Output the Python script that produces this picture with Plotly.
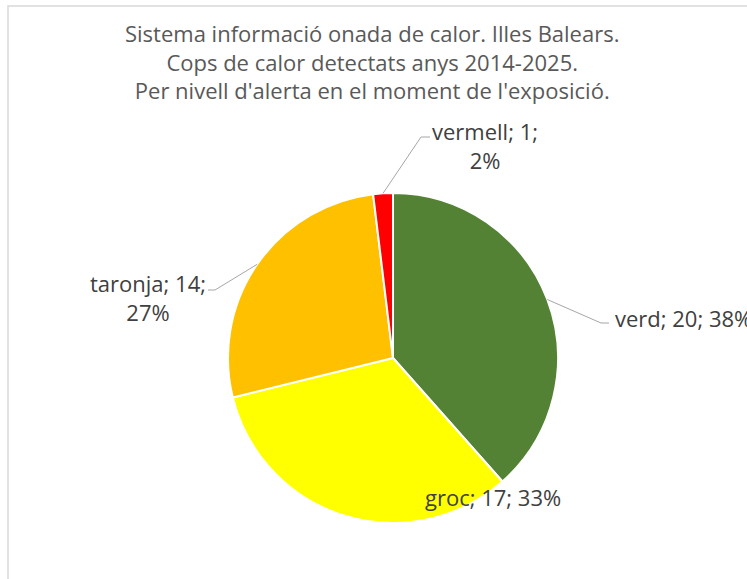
import math
import plotly.graph_objects as go

# Heat stroke cases by alert level (Illes Balears, 2014-2025)
levels = ["verd", "groc", "taronja", "vermell"]
cases = [20, 17, 14, 1]
colors = ["#548235", "#FFFF00", "#FFC000", "#FF0000"]

W, H = 747, 579
cx, cy, r = 393, 358, 165  # pie centre / radius in pixels

# label placement (pixels): text anchor, elbow, line end, wrap after count
label_pos = {
    "verd":    dict(x=613, y=318, xanchor="left", elbow=(601, 323), end=(609, 323), wrap=False),
    "groc":    dict(x=493, y=497, xanchor="center", elbow=None, end=None, wrap=False),
    "taronja": dict(x=148, y=297, xanchor="center", elbow=(215, 290), end=(208, 290), wrap=True),
    "vermell": dict(x=485, y=146, xanchor="center", elbow=(421, 137), end=(430, 137), wrap=True),
}

font = "Open Sans, Noto Sans, sans-serif"


def px(x):
    return x / W


def py(y):
    return 1 - y / H


fig = go.Figure(go.Pie(
    labels=levels,
    values=cases,
    marker=dict(colors=colors, line=dict(color="white", width=2)),
    sort=False,
    direction="clockwise",
    rotation=0,
    textinfo="none",
    hoverinfo="label+value+percent",
    domain=dict(x=[px(cx - r), px(cx + r)], y=[py(cy + r), py(cy - r)]),
    showlegend=False,
))

total = sum(cases)
start = 0
annotations = []
shapes = []
for name, v in zip(levels, cases):
    mid = (start + v / 2) / total * 2 * math.pi
    start += v
    pct = round(v / total * 100)
    sep = "<br>" if label_pos[name]["wrap"] else " "
    text = f"{name}; {v};{sep}{pct}%"
    lp = label_pos[name]
    annotations.append(dict(
        x=px(lp["x"]), y=py(lp["y"]), xref="paper", yref="paper",
        text=text, showarrow=False, xanchor=lp["xanchor"], yanchor="middle",
        font=dict(family=font, size=22, color="#404040"), align="center",
    ))
    if lp["elbow"]:
        ex = cx + r * math.sin(mid)
        ey = cy - r * math.cos(mid)
        (bx, by), (tx, ty) = lp["elbow"], lp["end"]
        shapes.append(dict(
            type="path", xref="paper", yref="paper",
            path=f"M {px(ex)} {py(ey)} L {px(bx)} {py(by)} L {px(tx)} {py(ty)}",
            line=dict(color="#a6a6a6", width=1),
        ))

# chart area border
shapes.append(dict(type="rect", xref="paper", yref="paper",
                   x0=px(8), y0=-0.1, x1=1.1, y1=py(6),
                   line=dict(color="#d9d9d9", width=1.5), layer="below"))

annotations.append(dict(
    x=px(372), y=py(62), xref="paper", yref="paper", showarrow=False,
    text="Sistema informació onada de calor. Illes Balears.<br>"
         "Cops de calor detectats anys 2014-2025.<br>"
         "Per nivell d'alerta en el moment de l'exposició.",
    font=dict(family=font, size=22, color="#595959"), align="center",
    xanchor="center", yanchor="middle",
))

fig.update_layout(
    width=W, height=H,
    margin=dict(l=0, r=0, t=0, b=0),
    paper_bgcolor="white",
    annotations=annotations,
    shapes=shapes,
)

# drop the default page margin so the figure sits at the window corner
fig.write_html("out.html", config={"displayModeBar": False},
               post_script="document.body.style.margin = '0';")
